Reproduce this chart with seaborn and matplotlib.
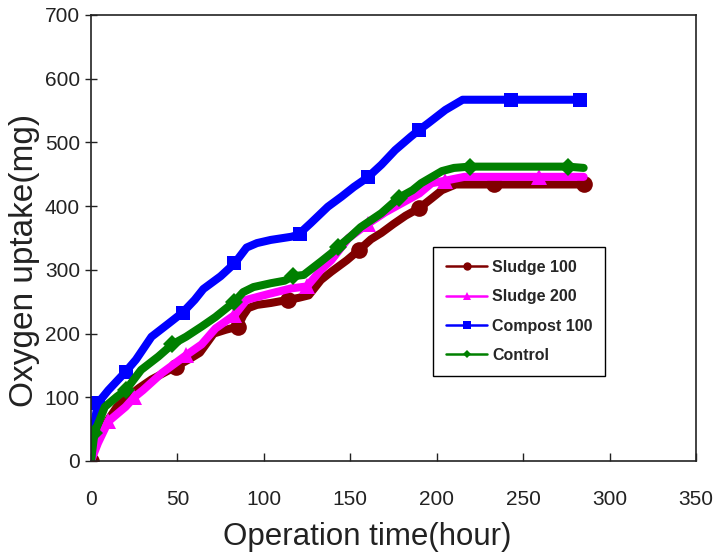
import pandas as pd
import numpy as np
import matplotlib
matplotlib.use("Agg")
import matplotlib.pyplot as plt
from matplotlib import font_manager
from matplotlib.lines import Line2D
import seaborn as sns

# --- data ---
sludge100_t = [0, 2, 5, 10, 15, 21, 28, 35, 42, 49, 57, 63, 71, 78, 85, 88, 91, 96, 104, 114,
               120, 126, 133, 139, 148, 155, 162, 168, 175, 182, 190, 197, 203, 211, 233, 285]
sludge100_v = [0, 18, 38, 65, 85, 100, 115, 128, 138, 148, 160, 170, 200, 206, 211, 228, 240, 245, 248, 253,
               256, 260, 284, 297, 315, 331, 348, 358, 372, 385, 397, 412, 425, 434, 434, 434]
sludge100_mk = [0, 49, 85, 114, 155, 190, 233, 285]

sludge200_t = [0, 4, 10, 20, 25, 30, 41, 55, 64, 72, 83, 90, 104, 116, 125, 133, 139, 149, 160,
               170, 180, 190, 197, 205, 216, 259, 285]
sludge200_v = [0, 28, 62, 85, 100, 111, 138, 166, 183, 208, 229, 253, 263, 271, 274, 300, 315, 350, 372,
               390, 405, 420, 436, 440, 446, 446, 446]
sludge200_mk = [10, 25, 55, 83, 125, 160, 205, 259]

compost100_t = [0, 1, 4, 10, 20, 26, 35, 45, 53, 60, 65, 75, 83, 90, 96, 104, 116, 121, 123, 127,
                137, 145, 152, 160, 168, 176, 185, 190, 195, 205, 215, 243, 283]
compost100_v = [0, 44, 91, 111, 140, 159, 195, 216, 233, 253, 270, 290, 310, 335, 342, 347, 352, 356, 363, 373,
                399, 415, 430, 445, 465, 488, 509, 520, 530, 551, 567, 567, 567]
compost100_mk = [4, 20, 53, 83, 121, 160, 190, 243, 283]

control_t = [0, 2, 8, 15, 20, 29, 39, 47, 55, 64, 72, 83, 88, 94, 104, 112, 117, 123, 133, 139,
             143, 150, 156, 168, 178, 186, 191, 203, 210, 219, 276, 285]
control_v = [0, 44, 85, 101, 111, 143, 164, 183, 195, 211, 226, 250, 265, 273, 279, 283, 290, 292, 313, 326,
             336, 352, 367, 389, 413, 425, 436, 455, 460, 462, 462, 460]
control_mk = [2, 20, 47, 83, 117, 143, 178, 219, 276]

series_names = ["Sludge 100", "Sludge 200", "Compost 100", "Control"]
series_colors = ["#800000", "#FF00FF", "#0000FF", "#008000"]
series_markers = ["o", "^", "s", "D"]
x_ticks = [0, 50, 100, 150, 200, 250, 300, 350]
y_ticks = [0, 100, 200, 300, 400, 500, 600, 700]

sns.set_style("white")
installed = {f.name for f in font_manager.fontManager.ttflist}
narrow = "Liberation Sans Narrow" if "Liberation Sans Narrow" in installed else "Liberation Sans"
plt.rcParams["font.family"] = [narrow, "DejaVu Sans"]

fig = plt.figure(figsize=(7.13, 5.56), dpi=100)
ax = fig.add_axes([91 / 713, 95 / 556, 605 / 713, 446 / 556])

data = [(sludge100_t, sludge100_v, sludge100_mk),
        (sludge200_t, sludge200_v, sludge200_mk),
        (compost100_t, compost100_v, compost100_mk),
        (control_t, control_v, control_mk)]
msizes = [12, 12, 10.5, 9.5]

handles = []
for (t, v, mk), name, col, m, ms in zip(data, series_names, series_colors, series_markers, msizes):
    df = pd.DataFrame({"time": t, "uptake": v})
    idx = [t.index(x) for x in mk]
    sns.lineplot(data=df, x="time", y="uptake", ax=ax, color=col, linewidth=5.8,
                 marker=m, markersize=ms, markeredgewidth=0, markevery=idx,
                 sort=False, estimator=None, legend=False)
    handles.append(Line2D([], [], color=col, linewidth=1.8, marker=m,
                          markersize=6 if m != "D" else 4.5, markeredgewidth=0, label=name))

ax.set_xlim(0, 350)
ax.set_ylim(0, 700)
ax.set_xticks(x_ticks)
ax.set_yticks(y_ticks)
ax.tick_params(axis="x", direction="in", length=6, width=1, pad=21, labelsize=15, colors="#222222")
ax.tick_params(axis="y", direction="inout", length=8, width=1, pad=4, labelsize=15, colors="#222222")
ax.tick_params(bottom=True, left=True)
for s in ax.spines.values():
    s.set_color("#222222")
    s.set_linewidth(1.2)

ax.set_xlabel("Operation time(hour)", fontsize=22.5, color="#222222")
ax.set_ylabel("Oxygen uptake(mg)", fontsize=24, color="#222222")
ax.xaxis.set_label_coords(276 / 605, -61 / 446)
ax.yaxis.set_label_coords(-51 / 605, 201 / 446)

leg = ax.legend(handles=handles, loc="upper left", bbox_to_anchor=(342 / 605, 214 / 446),
                frameon=True, fancybox=False, framealpha=1, edgecolor="black",
                prop={"weight": "bold", "size": 11.5}, handlelength=2.6, handletextpad=0.3,
                labelspacing=0.9, borderpad=0.8, borderaxespad=0)
leg.get_frame().set_linewidth(1.0)

fig.savefig("out.png", dpi=100)
